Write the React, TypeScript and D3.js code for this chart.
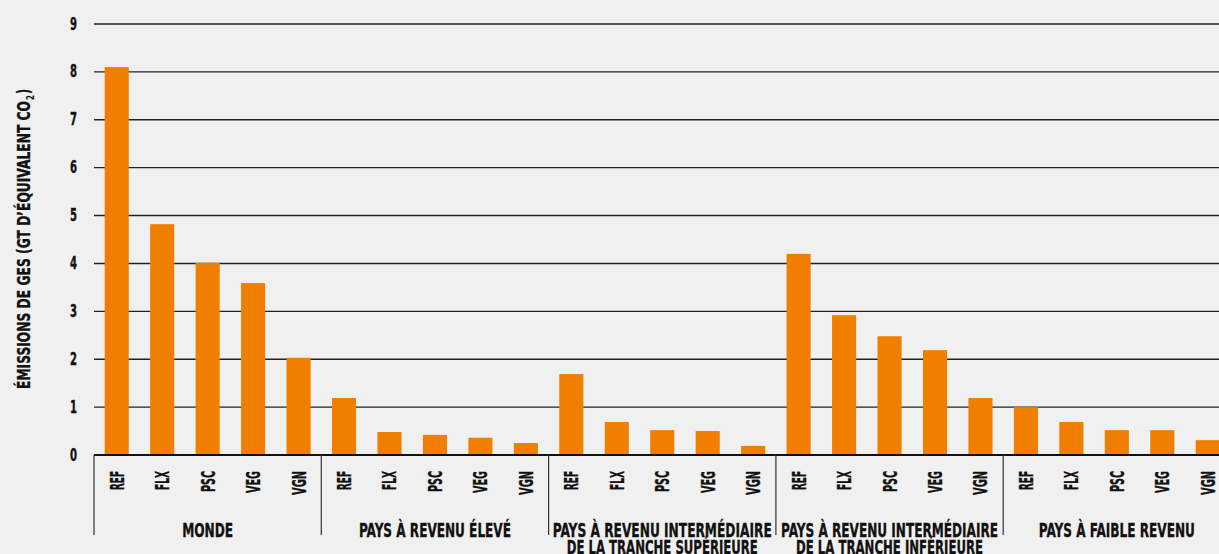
import React from "react";
import * as d3 from "d3";

const groups = [
  ["MONDE"],
  ["PAYS À REVENU ÉLEVÉ"],
  ["PAYS À REVENU INTERMÉDIAIRE", "DE LA TRANCHE SUPÉRIEURE"],
  ["PAYS À REVENU INTERMÉDIAIRE", "DE LA TRANCHE INFÉRIEURE"],
  ["PAYS À FAIBLE REVENU"],
];
const groupLabelWidths = [[51], [152], [219, 191], [217, 187], [156]];
const scenarios = ["REF", "FLX", "PSC", "VEG", "VGN"];
const scenarioWidths = [19, 19, 21, 22, 24];
const valuesMonde = [8.1, 4.82, 4.01, 3.59, 2.03];
const valuesHigh = [1.19, 0.48, 0.42, 0.36, 0.25];
const valuesUpperMid = [1.69, 0.69, 0.52, 0.5, 0.19];
const valuesLowerMid = [4.2, 2.92, 2.48, 2.19, 1.19];
const valuesLow = [1.0, 0.69, 0.52, 0.52, 0.31];
const seriesValues = [valuesMonde, valuesHigh, valuesUpperMid, valuesLowerMid, valuesLow];
const yTicks = [0, 1, 2, 3, 4, 5, 6, 7, 8, 9];

const W = 1219;
const H = 554;
const FONT = "'DejaVu Sans Condensed', 'Liberation Sans Narrow', Roboto, sans-serif";
const BAR = "#f07f00";
const INK = "#111";

export default function App() {
  const left = 94;
  const groupW = 227.3;
  const y = d3.scaleLinear().domain([0, 9]).range([455, 24]);
  const gx = d3
    .scaleBand<number>()
    .domain(d3.range(groups.length))
    .range([left, left + groupW * groups.length]);
  const bx = d3
    .scaleBand<string>()
    .domain(scenarios)
    .range([0, gx.bandwidth()])
    .paddingInner(0.47)
    .paddingOuter(0.235);

  const heavy = { stroke: INK, strokeWidth: 0.35 };

  return (
    <svg
      width={W}
      height={H}
      style={{ position: "absolute", left: 0, top: 0 }}
      fontFamily={FONT}
      fontWeight="bold"
    >
      <rect x={0} y={0} width={W} height={H} fill="#f0f0f0" />
      {/* gridlines */}
      {yTicks
        .filter((t) => t > 0)
        .map((t) => (
          <line key={t} x1={left} x2={W} y1={y(t)} y2={y(t)} stroke="#222" strokeWidth={1.4} />
        ))}
      {/* tick labels */}
      {yTicks.map((t) => (
        <text
          key={t}
          x={77}
          y={y(t) + 5.5}
          textAnchor="end"
          fontSize={17}
          fill={INK}
          {...heavy}
          textLength={7}
          lengthAdjust="spacingAndGlyphs"
        >
          {t}
        </text>
      ))}
      {/* bars */}
      {seriesValues.map((vals, gi) =>
        vals.map((v, si) => (
          <rect
            key={gi + "-" + si}
            x={(gx(gi) as number) + (bx(scenarios[si]) as number)}
            y={y(v)}
            width={bx.bandwidth()}
            height={y(0) - y(v)}
            fill={BAR}
          />
        ))
      )}
      {/* baseline */}
      <line x1={left} x2={W} y1={y(0)} y2={y(0)} stroke={INK} strokeWidth={2.2} />
      {/* group dividers */}
      {d3.range(groups.length).map((gi) => (
        <line
          key={gi}
          x1={gx(gi) as number}
          x2={gx(gi) as number}
          y1={y(0)}
          y2={535}
          stroke="#333"
          strokeWidth={1.2}
        />
      ))}
      {/* scenario labels */}
      {seriesValues.map((vals, gi) =>
        scenarios.map((s, si) => {
          const cx = (gx(gi) as number) + (bx(s) as number) + bx.bandwidth() / 2;
          return (
            <text
              key={gi + "-" + s}
              transform={`translate(${cx + 7},471) rotate(-90)`}
              textAnchor="end"
              fontSize={19}
              fill={INK}
              {...heavy}
              textLength={scenarioWidths[si]}
              lengthAdjust="spacingAndGlyphs"
            >
              {s}
            </text>
          );
        })
      )}
      {/* group labels */}
      {groups.map((lines, gi) =>
        lines.map((ln, li) => (
          <text
            key={gi + "-" + li}
            x={(gx(gi) as number) + gx.bandwidth() / 2}
            y={536.5 + li * 17}
            textAnchor="middle"
            fontSize={20}
            fill={INK}
            {...heavy}
            textLength={groupLabelWidths[gi][li]}
            lengthAdjust="spacingAndGlyphs"
          >
            {ln}
          </text>
        ))
      )}
      {/* y axis title */}
      <g transform="translate(30,389) rotate(-90)" fill={INK}>
        <text x={0} y={0} fontSize={18} {...heavy} textLength={288} lengthAdjust="spacingAndGlyphs">
          ÉMISSIONS DE GES (GT D’ÉQUIVALENT CO
        </text>
        <text x={289} y={4} fontSize={11} textLength={5} lengthAdjust="spacingAndGlyphs">
          2
        </text>
        <text x={295} y={0} fontSize={18} {...heavy} textLength={5} lengthAdjust="spacingAndGlyphs">
          )
        </text>
      </g>
    </svg>
  );
}
